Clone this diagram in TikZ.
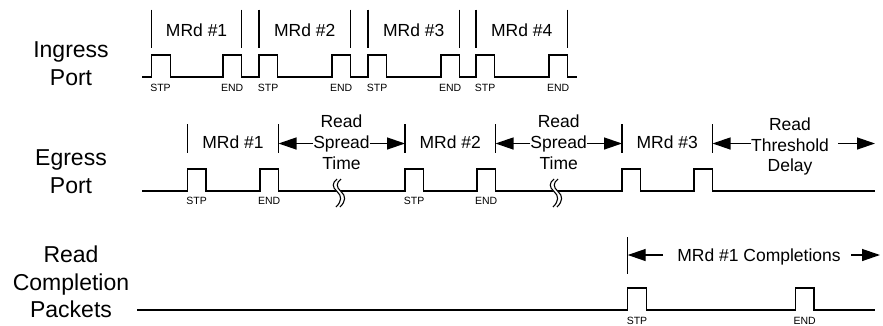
\documentclass[tikz,border=0pt]{standalone}
\usepackage{fontspec}
\setmainfont{Liberation Sans}
\usetikzlibrary{arrows.meta}
\begin{document}
\begin{tikzpicture}[x=1pt,y=-1pt,
  wave/.style={line width=1.3pt, line join=miter},
  tickln/.style={line width=1.3pt},
  side/.style={font=\fontsize{23}{27}\selectfont, anchor=base, inner sep=0pt},
  lab/.style={font=\fontsize{17.5}{20}\selectfont, anchor=base, inner sep=0pt},
  small/.style={font=\fontsize{10.5}{12}\selectfont, anchor=base, inner sep=0pt},
  arr/.style={line width=1.3pt, -{Triangle[length=18pt,width=12pt]}},
  brk/.style={line width=1.1pt},
]
\useasboundingbox (0,0) rectangle (883,325);
\def\pw{18.5}

% side labels
\node[side] (ing1) at (71,57) {Ingress};
\node[side] (ing2) at (71,85) {Port};
\node[side] (eg1) at (71,165) {Egress};
\node[side] (eg2) at (71,193) {Port};
\node[side] (rc1) at (71,262) {Read};
\node[side] (rc2) at (71,290) {Completion};
\node[side] (rc3) at (71,317.5) {Packets};

% ---------------- Ingress ----------------
\draw[wave] (142,77) foreach \r in {151.7,223,259,332,368,441,476,549}
  { -- (\r,77) -- (\r,55) -- (\r+\pw,55) -- (\r+\pw,77) } -- (577,77);
\foreach \t [count=\i] in {151.7,241.5,259,350.5,368,459.5,476,567.5}
  \draw[tickln] (\t,9.5) coordinate (iT\i) -- (\t,47.5);
\node[lab] (im1) at (196.6,36.5) {MRd \#1};
\node[lab] (im2) at (304.7,36.5) {MRd \#2};
\node[lab] (im3) at (413.7,36.5) {MRd \#3};
\node[lab] (im4) at (521.7,36.5) {MRd \#4};
\foreach \c [count=\i] in {160.5,268.2,377.2,485.2}
  \node[small] (iS\i) at (\c,91.5) {STP};
\foreach \c [count=\i] in {232.2,341.2,450.2,558.2}
  \node[small] (iE\i) at (\c,91.5) {END};

% ---------------- Egress ----------------
\draw[wave] (142,191) foreach \r in {187.5,260,405,477,622,694}
  { -- (\r,191) -- (\r,169) -- (\r+\pw,169) -- (\r+\pw,191) } -- (875,191);
\foreach \t [count=\i] in {187.5,278.5,405,495.5,622,712.5}
  \draw[tickln] (\t,124) coordinate (eT\i) -- (\t,153.3);
\node[lab] (em1) at (233,148.5) {MRd \#1};
\node[lab] (em2) at (450.2,148.5) {MRd \#2};
\node[lab] (em3) at (667.2,148.5) {MRd \#3};
\node[small] (eS1) at (196.7,204.5) {STP};
\node[small] (eE1) at (269.2,204.5) {END};
\node[small] (eS2) at (414.2,204.5) {STP};
\node[small] (eE2) at (486.2,204.5) {END};

\coordinate (ay) at (0,143.5);
% read spread time 1
\node[lab] (rd1) at (341.5,127.5) {Read};
\node[lab] (sp1) at (341.5,148.5) {Spread};
\node[lab] (tm1) at (341.5,169.5) {Time};
\draw[arr] (sp1.west |- ay) -- (eT2 |- ay);
\draw[arr] (sp1.east |- ay) -- (eT3 |- ay);
% read spread time 2
\node[lab] (rd2) at (558.7,127.5) {Read};
\node[lab] (sp2) at (558.7,148.5) {Spread};
\node[lab] (tm2) at (558.7,169.5) {Time};
\draw[arr] (sp2.west |- ay) -- (eT4 |- ay);
\draw[arr] (sp2.east |- ay) -- (eT5 |- ay);
% read threshold delay
\node[lab] (rd3) at (790,130.5) {Read};
\node[lab] (th) at (790,151) {Threshold};
\node[lab] (dl) at (790,171.5) {Delay};
\coordinate (thS) at (838,143.5);
\coordinate (thR) at (875,143.5);
\draw[arr] (th.west |- ay) -- (eT6 |- ay);
\draw[arr] (thS) -- (thR);

% break marks
\foreach \x in {333,550}{
  \draw[white, line width=3.5pt] (\x+6,179) .. controls (\x+1,183) and (\x+1,187) .. (\x+6,191.5)
     .. controls (\x+11,196) and (\x+11,201) .. (\x+5,207);
  \foreach \d in {0,4}
    \draw[brk] (\x+4+\d,179) .. controls (\x-1+\d,183) and (\x-1+\d,187) .. (\x+4+\d,191.5)
       .. controls (\x+9+\d,196) and (\x+9+\d,201) .. (\x+3+\d,207);
}

% ---------------- Completions ----------------
\draw[wave] (137,310) foreach \r in {627.7,795.5}
  { -- (\r,310) -- (\r,288) -- (\r+\pw,288) -- (\r+\pw,310) } -- (875,310);
\draw[tickln] (627.7,237) coordinate (cT1) -- (627.7,274);
\node[lab] (cm) at (759,261) {MRd \#1 Completions};
\coordinate (cL) at (663,255);
\coordinate (cRs) at (851,255);
\coordinate (cRe) at (880,255);
\draw[arr] (cL) -- (cT1 |- cL);
\draw[arr] (cRs) -- (cRe);
\node[small] (cS) at (637,324.3) {STP};
\node[small] (cE) at (804.7,324.3) {END};
\end{tikzpicture}
\end{document}
